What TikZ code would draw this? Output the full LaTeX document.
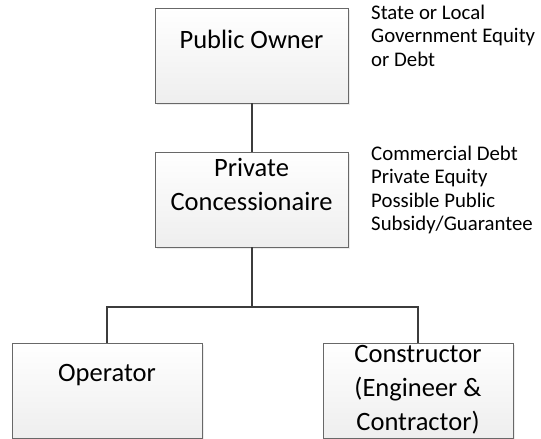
\documentclass[tikz,border=0pt]{standalone}
\usepackage{fontspec}
\setmainfont{Carlito}
\usetikzlibrary{positioning,shadows}
\definecolor{PppLine}{HTML}{3C3C3C}
\definecolor{PppEdge}{HTML}{686868}
\definecolor{PppFillTop}{HTML}{FFFFFF}
\definecolor{PppFillBot}{HTML}{EEEEEE}
\tikzset{
  ppbox/.style={draw=PppEdge,line width=0.8pt,top color=PppFillTop,bottom color=PppFillBot,
    minimum width=193pt,minimum height=95pt,inner sep=0pt,
    drop shadow={shadow xshift=1.5pt,shadow yshift=-1.5pt,opacity=0.15}},
  pptext/.style={align=center,font=\fontsize{26.5}{34}\selectfont,inner sep=0pt},
  ppnote/.style={align=left,anchor=north west,font=\fontsize{20.8}{23.2}\selectfont,inner sep=0pt},
  ppwire/.style={PppLine,line width=2pt}
}
\begin{document}
\begin{tikzpicture}[x=1pt,y=-1pt]
    \useasboundingbox (0,0) rectangle (541,439);
    \node[ppbox] (owner) at (251.5,55.5) {};
    \node[ppbox] (conc) at (251.5,199.5) {};
    \node[ppbox,minimum width=190pt] (oper) at (107,390.5) {};
    \node[ppbox,minimum width=190pt] (cons) at (418,390.5) {};
    \draw[ppwire] (owner.south) -- (conc.north);
    \coordinate (split) at (251.5,307);
    \draw[ppwire] (conc.south) -- (split);
    \draw[ppwire] (oper.north) |- (split) -| (cons.north);
    % texts in the boxes
    \node[pptext] (ownertext) at ([yshift=-32pt]owner.north) {Public Owner};
    \node[pptext] (conctext) at ([yshift=-33pt]conc.north) {Private\\Concessionaire};
    \node[pptext] (opertext) at ([yshift=-32pt]oper.north) {Operator};
    \node[pptext] (constext) at ([yshift=1pt]cons.center) {Constructor\\(Engineer \&\\Contractor)};
    % funding notes
    \node[ppnote] (ownernote) at (371,5) {State or Local\\Government Equity\\or Debt};
    \node[ppnote] (concnote) at (371,146) {Commercial Debt\\Private Equity\\Possible Public\\Subsidy/Guarantee};
\end{tikzpicture}
\end{document}
